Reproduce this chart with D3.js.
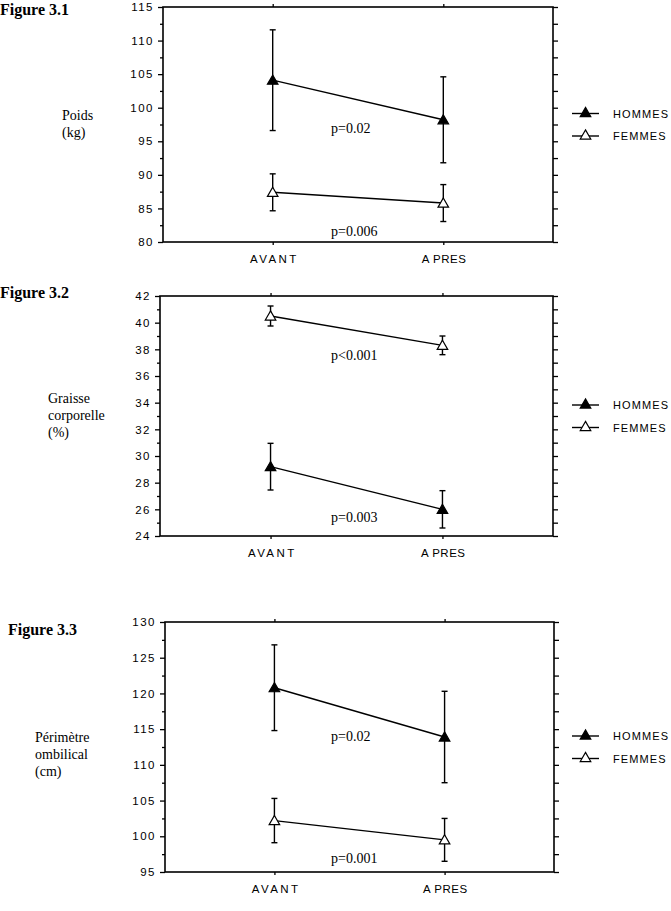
<!DOCTYPE html>
<html><head><meta charset="utf-8">
<script src="https://cdn.jsdelivr.net/npm/d3@7"></script>
<style>
html,body{margin:0;padding:0;background:#fff;}
svg{display:block;}
</style></head>
<body>
<script>
// ---- DATA ----
const categories = ["AVANT", "A PRES"];
const seriesNames = ["HOMMES", "FEMMES"];

const poidsHommes = [104.1, 98.2];
const poidsHommesErr = [7.5, 6.4];
const poidsFemmes = [87.4, 85.8];
const poidsFemmesErr = [2.75, 2.75];
const poidsTicks = [80, 85, 90, 95, 100, 105, 110, 115];
const poidsP = ["p=0.02", "p=0.006"];

const graisseHommes = [29.2, 26.0];
const graisseHommesErr = [1.75, 1.4];
const graisseFemmes = [40.5, 38.3];
const graisseFemmesErr = [0.75, 0.7];
const graisseTicks = [24, 26, 28, 30, 32, 34, 36, 38, 40, 42];
const graisseP = ["p<0.001", "p=0.003"];

const perimHommes = [120.8, 113.9];
const perimHommesErr = [6.0, 6.4];
const perimFemmes = [102.2, 99.5];
const perimFemmesErr = [3.1, 3.0];
const perimTicks = [95, 100, 105, 110, 115, 120, 125, 130];
const perimP = ["p=0.02", "p=0.001"];

// ---- DRAWING ----
const W = 671, H = 911;
const svg = d3.select("body").append("svg").attr("width", W).attr("height", H);
svg.append("rect").attr("width", W).attr("height", H).attr("fill", "#fff");

const SANS = "'Liberation Sans', Arial, sans-serif";
const SERIF = "'Liberation Serif', 'Times New Roman', serif";

function panel(cfg) {
  const g = svg.append("g");
  const y = d3.scaleLinear().domain([cfg.ticks[0], cfg.ticks[cfg.ticks.length - 1]]).range([cfg.bottom, cfg.top]);
  const x = d3.scalePoint().domain(categories).range([cfg.left, cfg.right]).padding(0.643);
  const step = cfg.ticks[1] - cfg.ticks[0];
  const minors = cfg.ticks.slice(0, -1).map(t => t + step / 2);
  const allTicks = cfg.ticks.concat(minors);

  // left major
  const la = g.append("g").attr("transform", `translate(${cfg.left},0)`)
    .call(d3.axisLeft(y).tickValues(cfg.ticks).tickSize(5).tickPadding(4).tickFormat(d3.format("d")));
  la.select(".domain").remove();
  la.selectAll("line").attr("stroke", "#000").attr("stroke-width", 1.3);
  la.selectAll("text").attr("font-family", SANS).attr("font-size", 11.5).attr("letter-spacing", "1.5px").attr("fill", "#000");
  // left minor
  const lm = g.append("g").attr("transform", `translate(${cfg.left},0)`)
    .call(d3.axisLeft(y).tickValues(minors).tickSize(3).tickFormat(""));
  lm.select(".domain").remove();
  lm.selectAll("line").attr("stroke", "#000").attr("stroke-width", 1.3);
  // right
  const ra = g.append("g").attr("transform", `translate(${cfg.right},0)`)
    .call(d3.axisRight(y).tickValues(allTicks).tickSize(5).tickFormat(""));
  ra.select(".domain").remove();
  ra.selectAll("line").attr("stroke", "#000").attr("stroke-width", 1.3);
  // top
  const ta = g.append("g").attr("transform", `translate(0,${cfg.top})`)
    .call(d3.axisTop(x).tickSize(3).tickFormat(""));
  ta.select(".domain").remove();
  ta.selectAll("line").attr("stroke", "#000").attr("stroke-width", 1.3);
  // bottom
  const ba = g.append("g").attr("transform", `translate(0,${cfg.bottom})`)
    .call(d3.axisBottom(x).tickSize(3).tickPadding(10));
  ba.select(".domain").remove();
  ba.selectAll("line").attr("stroke", "#000").attr("stroke-width", 1.3);
  ba.selectAll("text").attr("font-family", SANS).attr("font-size", 11.5).attr("fill", "#000")
    .attr("letter-spacing", d => d === "AVANT" ? "2.4px" : "0.5px")
    .attr("dx", d => d === "AVANT" ? "1.2px" : "0.25px");

  // frame
  g.append("rect").attr("x", cfg.left).attr("y", cfg.top)
    .attr("width", cfg.right - cfg.left).attr("height", cfg.bottom - cfg.top)
    .attr("fill", "none").attr("stroke", "#000").attr("stroke-width", 1.6);

  const tri = d3.symbol().type(d3.symbolTriangle).size(48);
  const series = [
    {vals: cfg.hommes, errs: cfg.hommesErr, fill: "#000"},
    {vals: cfg.femmes, errs: cfg.femmesErr, fill: "#fff"}
  ];
  const line = d3.line().x((d, i) => x(categories[i])).y(d => y(d));
  series.forEach(s => {
    g.append("path").datum(s.vals).attr("d", line).attr("fill", "none").attr("stroke", "#000").attr("stroke-width", 1.4);
    s.vals.forEach((v, i) => {
      const cx = x(categories[i]);
      const y1 = y(v + s.errs[i]), y2 = y(v - s.errs[i]);
      g.append("line").attr("x1", cx).attr("x2", cx).attr("y1", y1).attr("y2", y2).attr("stroke", "#000").attr("stroke-width", 1.4);
      [y1, y2].forEach(yy => g.append("line").attr("x1", cx - 3).attr("x2", cx + 3).attr("y1", yy).attr("y2", yy).attr("stroke", "#000").attr("stroke-width", 1.4));
      g.append("path").attr("d", tri).attr("transform", `translate(${cx},${y(v) + 1})`)
        .attr("fill", s.fill).attr("stroke", "#000").attr("stroke-width", 1.2);
    });
  });

  // p-values
  cfg.p.forEach((t, i) => {
    g.append("text").attr("x", cfg.pX).attr("y", y(cfg.pY[i])).attr("font-family", SERIF).attr("font-size", 14)
      .attr("fill", "#000").text(t);
  });

  // title
  g.append("text").attr("x", cfg.titleX).attr("y", cfg.titleY).attr("font-family", SERIF).attr("font-weight", "bold")
    .attr("font-size", 16).attr("fill", "#000").text(cfg.title);

  // y label
  cfg.ylabel.forEach((t, i) => {
    g.append("text").attr("x", cfg.ylabelX).attr("y", cfg.ylabelY + i * 17).attr("font-family", SERIF)
      .attr("font-size", 14).attr("fill", "#000").text(t);
  });

  // legend
  const mid = (cfg.top + cfg.bottom) / 2;
  const legFill = ["#000", "#fff"];
  seriesNames.forEach((nm, i) => {
    const ly = mid - 11 + i * 22.5;
    g.append("line").attr("x1", 572).attr("x2", 599).attr("y1", ly).attr("y2", ly).attr("stroke", "#000").attr("stroke-width", 1.4);
    g.append("path").attr("d", tri).attr("transform", `translate(585.5,${ly})`).attr("fill", legFill[i]).attr("stroke", "#000").attr("stroke-width", 1.2);
    g.append("text").attr("x", 613).attr("y", ly + 4).attr("font-family", SANS).attr("font-size", 11)
      .attr("letter-spacing", "1.1px").attr("fill", "#000").text(nm);
  });
}

panel({left: 163, right: 553, top: 7, bottom: 242, ticks: poidsTicks,
  hommes: poidsHommes, hommesErr: poidsHommesErr, femmes: poidsFemmes, femmesErr: poidsFemmesErr,
  p: poidsP, pX: 331, pY: [96.2, 80.9], title: "Figure 3.1", titleX: 0, titleY: 15,
  ylabel: ["Poids", "(kg)"], ylabelX: 62, ylabelY: 120});

panel({left: 160, right: 553, top: 296, bottom: 536, ticks: graisseTicks,
  hommes: graisseHommes, hommesErr: graisseHommesErr, femmes: graisseFemmes, femmesErr: graisseFemmesErr,
  p: graisseP, pX: 331, pY: [37.2, 25.05], title: "Figure 3.2", titleX: 0, titleY: 298,
  ylabel: ["Graisse", "corporelle", "(%)"], ylabelX: 48, ylabelY: 403});

panel({left: 165, right: 554, top: 622, bottom: 872, ticks: perimTicks,
  hommes: perimHommes, hommesErr: perimHommesErr, femmes: perimFemmes, femmesErr: perimFemmesErr,
  p: perimP, pX: 331, pY: [113.4, 96.3], title: "Figure 3.3", titleX: 8, titleY: 635,
  ylabel: ["Périmètre", "ombilical", "(cm)"], ylabelX: 35, ylabelY: 742});
</script>
</body></html>
